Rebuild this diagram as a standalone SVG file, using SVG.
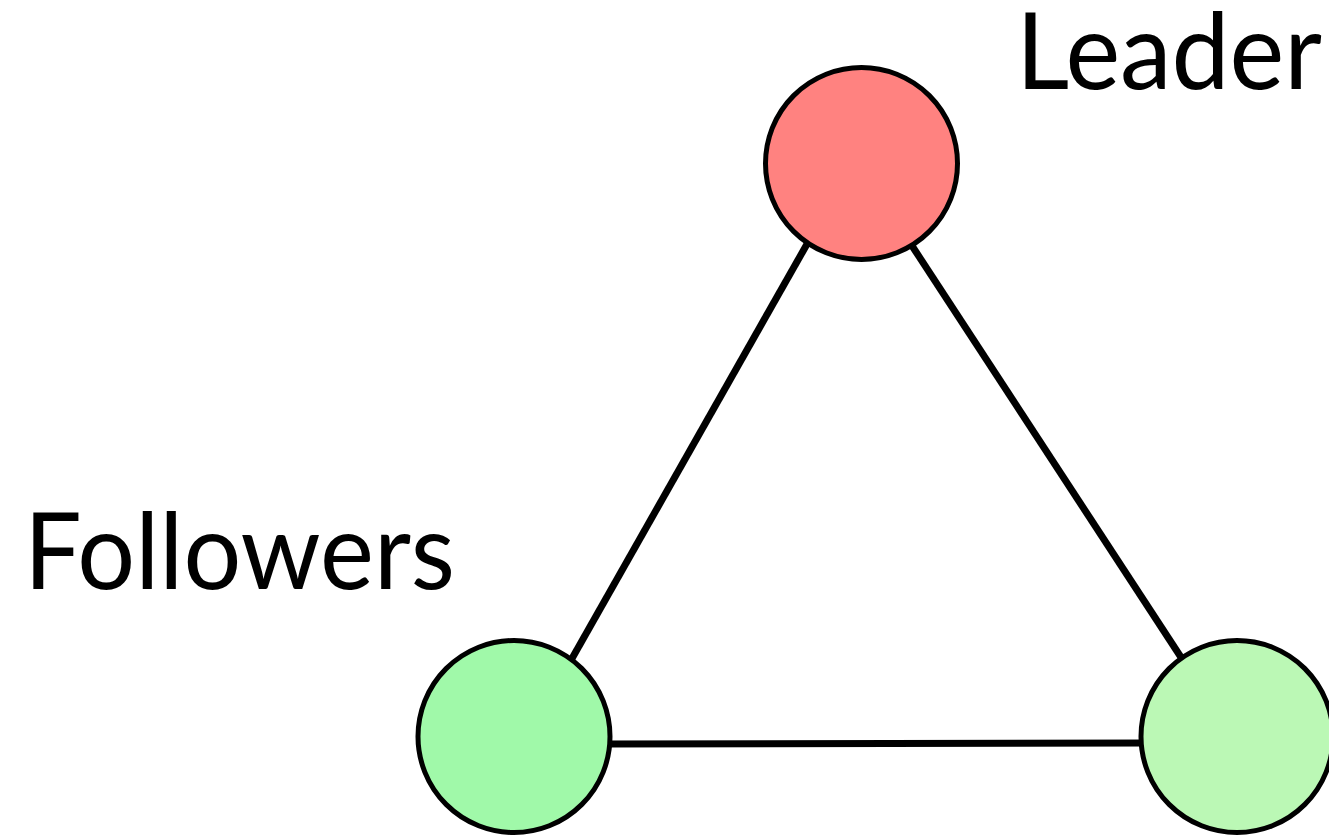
<svg xmlns="http://www.w3.org/2000/svg" width="1329" height="837" viewBox="0 0 1329 837">
<style>
.edge{stroke:#000;stroke-width:7;fill:none}
.node{stroke:#000;stroke-width:5}
.lbl{font-family:Lato,"Open Sans","Liberation Sans",sans-serif;font-size:106px;fill:#000}
</style>
<rect width="1329" height="837" fill="#fff"/>
<g id="connectors">
<line class="edge" x1="815" y1="230" x2="570" y2="662"/>
<line class="edge" x1="903" y1="232" x2="1188" y2="668"/>
<line class="edge" x1="600" y1="744" x2="1150" y2="743"/>
</g>
<g id="leader">
<circle class="node" cx="861.5" cy="163.5" r="96" fill="#ff8280"/>
<text class="lbl" x="1016" y="89" textLength="306" lengthAdjust="spacingAndGlyphs">Leader</text>
</g>
<g id="follower1">
<circle class="node" cx="514" cy="736.5" r="96" fill="#a0f9a9"/>
</g>
<g id="follower2">
<circle class="node" cx="1237" cy="736.5" r="96" fill="#bbf8b5"/>
</g>
<g id="followers-label">
<text class="lbl" x="24" y="589" textLength="431" lengthAdjust="spacingAndGlyphs">Followers</text>
</g>
</svg>
